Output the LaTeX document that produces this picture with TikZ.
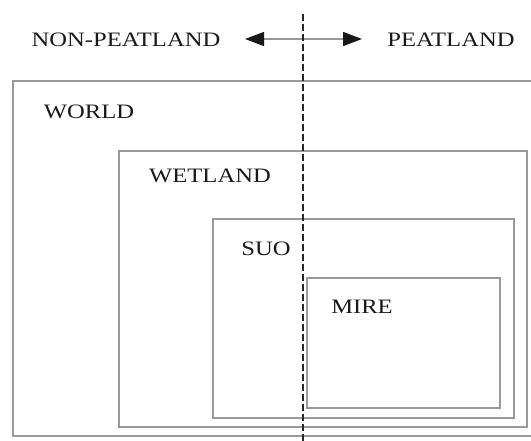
\documentclass[tikz,border=0pt]{standalone}
\usepackage{fontspec}
\setmainfont{Liberation Serif}[FakeStretch=1.2]
\usetikzlibrary{arrows.meta}
\begin{document}
\begin{tikzpicture}[x=1pt,y=-1pt,
  region/.style={draw=gray!80,line width=1.7pt,inner sep=0pt,anchor=north west},
  lbl/.style={inner sep=0pt,font=\fontsize{20.5}{24}\selectfont,text=black!90},
  divider/.style={draw=black!85,line width=2.5pt,dash pattern=on 7pt off 3pt},
  tipstyle/.style={},
  dirarrow/.style={draw=gray!80,line width=1.3pt,{Triangle[length=19pt,width=14pt,color=black!90,fill=black!90]}-{Triangle[length=19pt,width=14pt,color=black!90,fill=black!90]}}]
\useasboundingbox (0,0) rectangle (531,441);
\node[region,minimum width=522pt,minimum height=355pt] (world) at (12,80) {};
\node[region,minimum width=408pt,minimum height=276pt] (wetland) at (118,150) {};
\node[region,minimum width=301pt,minimum height=199pt] (suo) at (212,218) {};
\node[region,minimum width=193pt,minimum height=130pt] (mire) at (306,277) {};
\node[lbl] (nonpeat) at (126,40) {NON-PEATLAND};
\node[lbl] (peat) at (451,40) {PEATLAND};
\node[lbl] (worldl) at (89,112) {WORLD};
\node[lbl] (wetlandl) at (210,176) {WETLAND};
\node[lbl] (suol) at (266,249) {SUO};
\node[lbl] (mirel) at (362,307) {MIRE};
\coordinate (al) at (245,39);
\coordinate (ar) at (362,39);
\coordinate (dtop) at (303,14);
\coordinate (dbot) at (303,441);
\draw[dirarrow] (al) -- (ar);
\draw[divider] (dtop) -- (dbot);
\end{tikzpicture}
\end{document}
